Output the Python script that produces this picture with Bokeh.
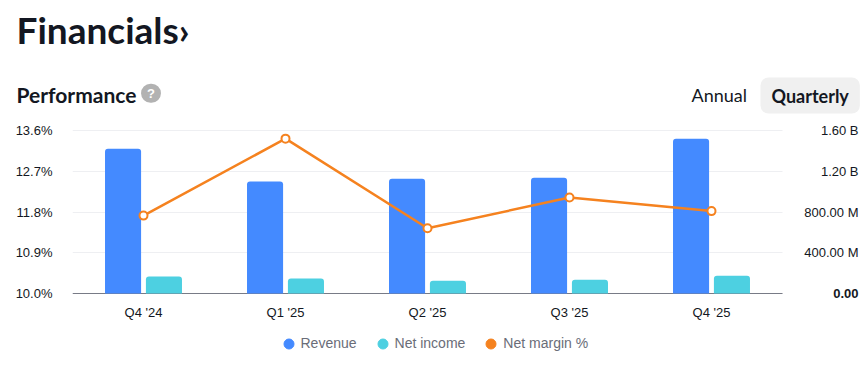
from bokeh.plotting import figure
from bokeh.layouts import column, row
from bokeh.models import (Range1d, FixedTicker, PrintfTickFormatter, Grid,
                          ColumnDataSource, Label, LabelSet, Legend, LegendItem)
from bokeh.core.properties import value
from bokeh.transform import dodge
from bokeh.embed import file_html
from bokeh.resources import INLINE

# ---- data ----
categories = ["Q4 '24", "Q1 '25", "Q2 '25", "Q3 '25", "Q4 '25"]
revenue = [1.42e9, 1.10e9, 1.126e9, 1.136e9, 1.518e9]
net_income = [0.167e9, 0.147e9, 0.125e9, 0.134e9, 0.174e9]
net_margin = [11.72, 13.42, 11.44, 12.12, 11.82]
margin_ticks = [10.0, 10.9, 11.8, 12.7, 13.6]
money_ticks = [0, 0.4e9, 0.8e9, 1.2e9, 1.6e9]
money_tick_labels = ["0.00", "400.00 M", "800.00 M", "1.20 B", "1.60 B"]
legend_labels = ["Revenue", "Net income", "Net margin %"]

BLUE = "#448aff"
CYAN = "#4dd0e1"
ORANGE = "#f5821f"
TEXT = "#131722"
GRID = "#eeeff2"
BASE = "#787b86"
FONT = "Liberation Sans"
HFONT = "Lato"

# ---- layout constants (pixels) ----
W = 867
H_HEAD = 116
H_MAIN = 214
H_LEG = 366 - H_HEAD - H_MAIN
FRAME_L, FRAME_R = 72, 782          # chart area (gridlines / baseline)
FRAME_T, FRAME_B = 130, 293
CANVAS_B = 300                      # bottom of the drawing frame
RIGHT_LABEL_X = 858                 # right edge of right-hand value labels


def blank(width, height, xr, yr):
    f = figure(width=width, height=height, x_range=xr, y_range=yr,
               output_backend="svg", toolbar_location=None,
               x_axis_type=None, y_axis_type=None,
               min_border=0, min_border_left=0, min_border_right=0,
               min_border_top=0, min_border_bottom=0)
    f.outline_line_color = None
    f.grid.visible = False
    return f


# ================= header =================
head = blank(W, H_HEAD, Range1d(0, W), Range1d(H_HEAD, 0))
head.add_layout(Label(x=16, y=6.5, text="Financials\u203a", text_font=HFONT,
                      text_font_style="bold", text_font_size="37px",
                      text_color=TEXT, text_baseline="top"))
head.add_layout(Label(x=16, y=81.5, text="Performance", text_font=HFONT,
                      text_font_style="bold", text_font_size="21px",
                      text_color=TEXT, text_baseline="top"))
head.add_layout(Label(x=150.5, y=92.7, text="?", text_font=FONT, text_font_style="bold",
                      text_font_size="13px", text_color="white",
                      text_align="center", text_baseline="middle",
                      background_fill_color="#b2b2b2", border_radius=10,
                      padding=(6, 2)))
head.add_layout(Label(x=691, y=83, text="Annual", text_font=HFONT,
                      text_font_size="18px", text_color=TEXT,
                      text_baseline="top"))
head.add_layout(Label(x=760, y=77, text="Quarterly", text_font=HFONT,
                      text_font_style="bold", text_font_size="18px",
                      text_color=TEXT, text_baseline="top",
                      background_fill_color="#f0f0f0", border_radius=8,
                      padding=(11, 7)))

# ================= main chart =================
x_pos = list(range(len(categories)))
cat_px = (FRAME_R - FRAME_L) / len(categories)
x_lo, x_hi = x_pos[0] - 0.5, x_pos[-1] + 0.5
x_end = x_lo + (W - FRAME_L) / cat_px

pct_per_px = (margin_ticks[-1] - margin_ticks[0]) / (FRAME_B - FRAME_T)
money_per_px = (money_ticks[-1] - money_ticks[0]) / (FRAME_B - FRAME_T)
top_px = FRAME_T - H_HEAD
bot_px = CANVAS_B - FRAME_B

p = figure(width=W, height=H_MAIN,
           x_range=Range1d(x_lo, x_end),
           y_range=Range1d(margin_ticks[0] - bot_px * pct_per_px,
                           margin_ticks[-1] + top_px * pct_per_px),
           output_backend="svg", toolbar_location=None,
           min_border_left=FRAME_L, min_border_right=0,
           min_border_top=0, min_border_bottom=H_HEAD + H_MAIN - CANVAS_B)
p.extra_y_ranges = {"money": Range1d(money_ticks[0] - bot_px * money_per_px,
                                     money_ticks[-1] + top_px * money_per_px)}
p.outline_line_color = None
p.xgrid.grid_line_color = None

# horizontal gridlines + baseline, limited to the chart area
has_cross = "cross_bounds" in Grid.properties()
if has_cross:
    p.ygrid.grid_line_color = GRID
    p.ygrid.cross_bounds = (x_lo, x_hi)
    p.add_layout(Grid(dimension=1, ticker=FixedTicker(ticks=margin_ticks[:1]),
                      cross_bounds=(x_lo, x_hi), grid_line_color=BASE,
                      grid_line_width=1))
else:
    p.ygrid.grid_line_color = None
    p.segment(x0=[x_lo] * len(margin_ticks), x1=[x_hi] * len(margin_ticks),
              y0=margin_ticks, y1=margin_ticks, line_color=GRID, line_width=1)
    p.segment(x0=[x_lo], x1=[x_hi], y0=margin_ticks[:1], y1=margin_ticks[:1],
              line_color=BASE, line_width=1)

src = ColumnDataSource(dict(x=x_pos, revenue=revenue,
                            net_income=net_income, margin=net_margin))

p.vbar(x=dodge("x", -0.144), top="revenue", bottom=0, width=0.254,
       source=src, y_range_name="money", fill_color=BLUE, line_color=None,
       border_radius=(3, 3, 0, 0))
p.vbar(x=dodge("x", 0.144), top="net_income", bottom=0, width=0.254,
       source=src, y_range_name="money", fill_color=CYAN, line_color=None,
       border_radius=(3, 3, 0, 0))
p.line(x="x", y="margin", source=src, line_color=ORANGE, line_width=2.5)
p.scatter(x="x", y="margin", source=src, marker="circle", size=8,
          fill_color="white", line_color=ORANGE, line_width=2)

# left axis (percent)
p.yaxis.ticker = FixedTicker(ticks=margin_ticks)
p.yaxis.formatter = PrintfTickFormatter(format="%.1f%%")
p.yaxis.axis_line_color = None
p.yaxis.major_tick_line_color = None
p.yaxis.minor_tick_line_color = None
p.yaxis.major_tick_out = 0
p.yaxis.major_label_standoff = 20
p.yaxis.major_label_text_font = FONT
p.yaxis.major_label_text_font_size = "13px"
p.yaxis.major_label_text_color = TEXT

# bottom axis (quarters)
p.xaxis.ticker = FixedTicker(ticks=x_pos)
p.xaxis.major_label_overrides = {i: c for i, c in zip(x_pos, categories)}
p.xaxis.bounds = (x_lo, x_hi)
p.xaxis.axis_line_color = None
p.xaxis.major_tick_line_color = None
p.xaxis.minor_tick_line_color = None
p.xaxis.major_tick_out = 0
p.xaxis.major_label_standoff = 4
p.xaxis.major_label_text_font = FONT
p.xaxis.major_label_text_font_size = "13px"
p.xaxis.major_label_text_color = TEXT

# right value labels (money scale)
bold_src = ColumnDataSource(dict(y=money_ticks[:1], text=money_tick_labels[:1]))
norm_src = ColumnDataSource(dict(y=money_ticks[1:], text=money_tick_labels[1:]))
for s, style in ((bold_src, "bold"), (norm_src, "normal")):
    p.add_layout(LabelSet(x=RIGHT_LABEL_X - FRAME_L, x_units="screen", y="y",
                          y_range_name="money", text="text", source=s,
                          text_align="right", text_baseline="middle",
                          text_font=value(FONT), text_font_size="13px",
                          text_font_style=style, text_color=TEXT))

# ================= legend strip =================
leg = blank(W, H_LEG, Range1d(0, 1), Range1d(0, 1))
items = []
for lab, col in zip(legend_labels, [BLUE, CYAN, ORANGE]):
    r = leg.scatter(x=[-10], y=[-10], marker="circle", size=10, color=col)
    items.append(LegendItem(label=lab, renderers=[r]))
leg.add_layout(Legend(items=items, orientation="horizontal", location=(275.5, 10.5),
                      glyph_width=25, glyph_height=25, label_standoff=0, spacing=13,
                      padding=0, margin=0, border_line_color=None,
                      background_fill_alpha=0, label_text_font=FONT,
                      label_text_font_size="14px", label_text_color="#6a6d78"))

layout = column(head, row(p), leg, spacing=0)
open("out.html", "w").write(file_html(layout, INLINE))
